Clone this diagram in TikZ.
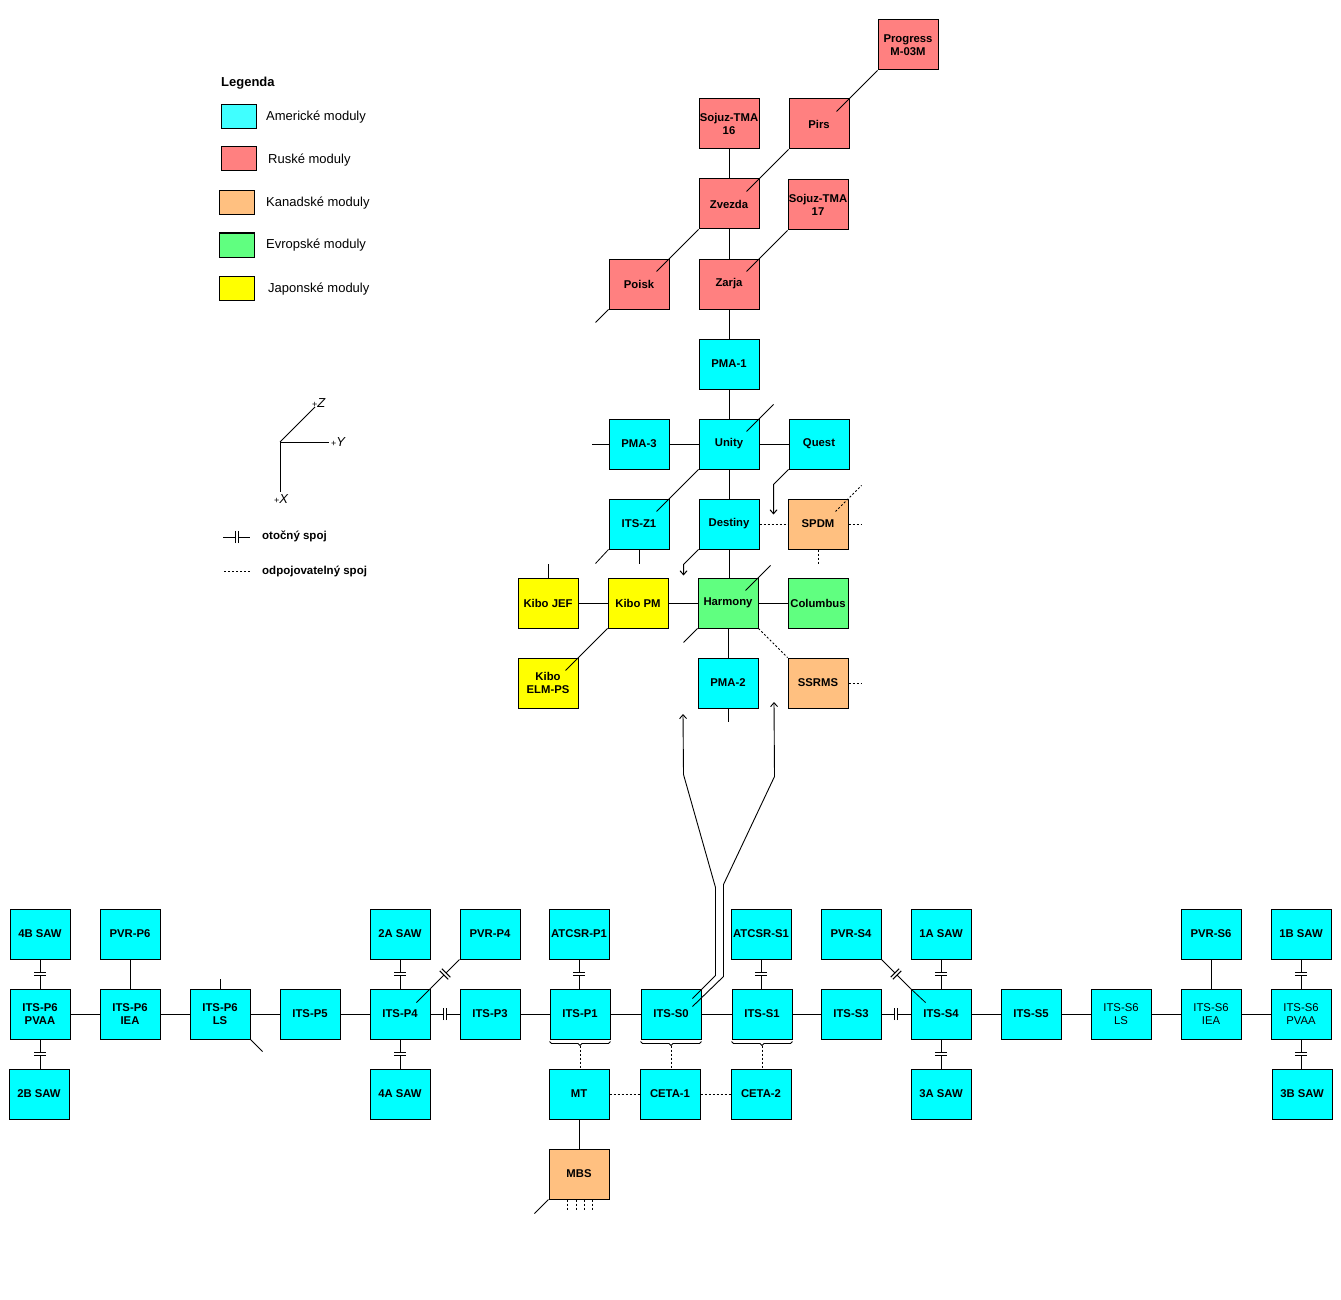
\documentclass[tikz,border=0pt]{standalone}
\usepackage{fontspec}
\setmainfont{Liberation Sans}
\usetikzlibrary{calc,decorations.markings,arrows.meta}

\definecolor{usc}{RGB}{0,255,255}
\definecolor{usl}{RGB}{64,255,255}
\definecolor{ruc}{RGB}{255,128,128}
\definecolor{cac}{RGB}{255,192,128}
\definecolor{euc}{RGB}{96,255,128}
\definecolor{jpc}{RGB}{255,255,0}

\tikzset{
  mod/.style={draw=black, line width=1pt, minimum width=60pt, minimum height=50pt,
    inner sep=0pt, align=center, font=\fontsize{11.3}{12.5}\selectfont\bfseries},
  us/.style={mod, fill=usc},
  ru/.style={mod, fill=ruc},
  ca/.style={mod, fill=cac},
  eu/.style={mod, fill=euc},
  jp/.style={mod, fill=jpc},
  usr/.style={us, font=\fontsize{11.3}{13.5}\selectfont},
  usb/.style={us, font=\fontsize{11.3}{13.5}\selectfont\bfseries},
  conn/.style={line width=1pt},
  diag/.style={line width=0.8pt},
  dots/.style={line width=1pt, dash pattern=on 2pt off 2pt},
  rot/.style={line width=1pt,
    decoration={markings, mark=at position 0.5 with {
      \fill[white] (-1.5pt,-1pt) rectangle (1.5pt,1pt);
      \draw[line width=1pt, solid] (-1.5pt,-6pt) -- (-1.5pt,6pt) (1.5pt,-6pt) -- (1.5pt,6pt);}},
    postaction={decorate}},
  arr/.style={line width=1pt, -{Straight Barb[length=4pt,width=7pt]}},
  swatch/.style={draw, line width=1pt, minimum width=35pt, minimum height=24pt, inner sep=0pt},
  legtext/.style={anchor=west, inner sep=0pt, font=\fontsize{13}{15}\selectfont},
  legbold/.style={anchor=west, inner sep=0pt, font=\fontsize{11.5}{13}\selectfont\bfseries},
  axl/.style={inner sep=0pt, font=\fontsize{13}{15}\selectfont\itshape},
}
\newcommand{\pl}{{\upshape\fontsize{9}{9}\selectfont +}}

\begin{document}
\begin{tikzpicture}[x=1pt,y=-1pt]
\fill[white] (0,0) rectangle (1341,1300);
\useasboundingbox (0,0) rectangle (1341,1300);

% ---------------- legend ----------------
\node[anchor=west, inner sep=0pt, font=\fontsize{13}{15}\selectfont\bfseries] (legtitle) at (221,83) {Legenda};
\node[swatch, fill=usl] (lus) at (238.5,117) {};
\node[swatch, fill=ruc] (lru) at (238.5,159) {};
\node[swatch, fill=cac] (lca) at (236.5,202.5) {};
\node[swatch, fill=euc] (leu) at (236.5,245) {};
\node[swatch, fill=jpc] (ljp) at (236.5,288.5) {};
\node[legtext] (tus) at (266,117) {Americké moduly};
\node[legtext] (tru) at (268,160) {Ruské moduly};
\node[legtext] (tca) at (266,203) {Kanadské moduly};
\node[legtext] (teu) at (266,245) {Evropské moduly};
\node[legtext] (tjp) at (268,289) {Japonské moduly};

% axes
\coordinate (ax) at (280,442);
\coordinate (axz) at (315,407);
\coordinate (axy) at (329,442);
\coordinate (axx) at (280,492);
\draw[line width=0.9pt] (ax) -- (axz);
\draw[conn] (ax) -- (axy);
\draw[conn] (ax) -- (axx);
\node[axl, anchor=west] (lz) at (312,403) {\pl Z};
\node[axl, anchor=west] (ly) at (331,442) {\pl Y};
\node[axl] (lx) at (281,499) {\pl X};

% connector legend
\coordinate (r1) at (223,537);
\coordinate (r2) at (250,537);
\draw[rot] (r1) -- (r2);
\node[legbold] (trot) at (262,536) {otočný spoj};
\coordinate (d1) at (224,571);
\coordinate (d2) at (250,571);
\draw[dots] (d1) -- (d2);
\node[legbold] (tdot) at (262,571) {odpojovatelný spoj};

% ---------------- upper modules ----------------
\node[ru] (progress) at (908,45) {Progress\\M-03M};
\node[ru] (soj16) at (729,124) {Sojuz-TMA\\16};
\node[ru] (pirs) at (819,124) {Pirs};
\node[ru] (zvezda) at (729,204) {Zvezda};
\node[ru] (soj17) at (818,205) {Sojuz-TMA\\17};
\node[ru] (poisk) at (639,284) {Poisk};
\node[ru] (zarja) at (729,284) {Zarja};
\node[us] (pma1) at (729,364) {PMA-1};
\node[us] (pma3) at (639,444) {PMA-3};
\node[us] (unity) at (729,444) {Unity};
\node[us] (quest) at (819,444) {Quest};
\node[us] (z1) at (639,524) {ITS-Z1};
\node[us] (destiny) at (729,524) {Destiny};
\node[ca] (spdm) at (818,524) {SPDM};
\node[jp] (jef) at (548,603) {Kibo JEF};
\node[jp] (pm) at (638,603) {Kibo PM};
\node[eu] (harmony) at (728,603) {Harmony};
\node[eu] (columbus) at (818,603) {Columbus};
\node[jp] (elm) at (548,683) {Kibo\\ELM-PS};
\node[us] (pma2) at (728,683) {PMA-2};
\node[ca] (ssrms) at (818,683) {SSRMS};

% ---------------- truss ----------------
\node[us] (b4) at (40,934) {4B SAW};
\node[us] (pvrp6) at (130,934) {PVR-P6};
\node[us] (a2) at (400,934) {2A SAW};
\node[us] (pvrp4) at (490,934) {PVR-P4};
\node[us] (atp1) at (579,934) {ATCSR-P1};
\node[us] (ats1) at (761,934) {ATCSR-S1};
\node[us] (pvrs4) at (851,934) {PVR-S4};
\node[us] (a1) at (941,934) {1A SAW};
\node[us] (pvrs6) at (1211,934) {PVR-S6};
\node[us] (b1) at (1301,934) {1B SAW};

\node[usb] (pvaap) at (40,1014) {ITS-P6\\PVAA};
\node[usb] (ieap) at (130,1014) {ITS-P6\\IEA};
\node[usb] (lsp) at (220,1014) {ITS-P6\\LS};
\node[us] (p5) at (310,1014) {ITS-P5};
\node[us] (p4) at (400,1014) {ITS-P4};
\node[us] (p3) at (490,1014) {ITS-P3};
\node[us] (p1) at (580,1014) {ITS-P1};
\node[us] (s0) at (671,1014) {ITS-S0};
\node[us] (s1) at (762,1014) {ITS-S1};
\node[us] (s3) at (851,1014) {ITS-S3};
\node[us] (s4) at (941,1014) {ITS-S4};
\node[us] (s5) at (1031,1014) {ITS-S5};
\node[usr] (lss) at (1121,1014) {ITS-S6\\LS};
\node[usr] (ieas) at (1211,1014) {ITS-S6\\IEA};
\node[usr] (pvaas) at (1301,1014) {ITS-S6\\PVAA};

\node[us] (b2) at (39,1094) {2B SAW};
\node[us] (a4) at (400,1094) {4A SAW};
\node[us] (mt) at (579,1094) {MT};
\node[us] (ceta1) at (670,1094) {CETA-1};
\node[us] (ceta2) at (761,1094) {CETA-2};
\node[us] (a3) at (941,1094) {3A SAW};
\node[us] (b3) at (1302,1094) {3B SAW};
\node[ca] (mbs) at (579,1174) {MBS};

% ---------------- upper connectors ----------------
\draw[conn] (soj16.south) -- (zvezda.north);
\draw[conn] (zvezda.south) -- (zarja.north);
\draw[conn] (zarja.south) -- (pma1.north);
\draw[conn] (pma1.south) -- (unity.north);
\draw[conn] (unity.south) -- (destiny.north);
\draw[conn] (destiny.south) -- (harmony.north -| destiny.south);
\draw[conn] (harmony.south) -- (pma2.north);
\draw[conn] (pma3.east) -- (unity.west);
\draw[conn] (unity.east) -- (quest.west);
\draw[conn] (jef.east) -- (pm.west);
\draw[conn] (pm.east) -- (harmony.west);
\draw[conn] (harmony.east) -- (columbus.west);
\draw[dots] (destiny.east) -- (spdm.west);
\draw[dots, line width=0.8pt] (harmony.south east) -- (ssrms.north west);

\draw[diag] (progress.south west) -- ($(pirs.north east)+(-13,13)$);
\draw[diag] (pirs.south west) -- ($(zvezda.north east)+(-13,13)$);
\draw[diag] (zvezda.south west) -- ($(poisk.north east)+(-13,13)$);
\draw[diag] (soj17.south west) -- ($(zarja.north east)+(-13,13)$);
\draw[diag] (unity.south west) -- ($(z1.north east)+(-13,13)$);
\draw[diag] (pm.south west) -- ($(elm.north east)+(-13,13)$);

\draw[diag] (poisk.south west) -- ++(-13,13);
\draw[conn] (pma3.west) -- ++(-17,0);
\draw[diag] ($(unity.north east)+(-13,13)$) -- ++(27,-27);
\draw[diag] ($(harmony.north east)+(-13,13)$) -- ++(25,-25);
\draw[dots, line width=0.8pt] ($(spdm.north east)+(-13,13)$) -- ++(26,-26);
\draw[dots] (spdm.east) -- ++(13,0);
\draw[dots] (spdm.south) -- ++(0,14);
\draw[dots] (ssrms.east) -- ++(13,0);
\draw[conn] (z1.south) -- ++(0,14);
\draw[diag] (z1.south west) -- ++(-13,14);
\draw[conn] (jef.north) -- ++(0,-14);
\draw[diag] (harmony.south west) -- ++(-14,14);
\draw[conn] (pma2.south) -- ++(0,13);
\draw[arr] (quest.south west) -- ++(-15,15) -- ++(0,30);
\draw[arr] (destiny.south west) -- ++(-15,15) -- ++(0,11);

% lines from ITS-S0 up to the station
\coordinate (tipL) at (683,714);
\coordinate (tipR) at (774,702);
\draw[arr, line width=0.9pt] ($(s0.north east)+(-9,10)$) -- ++(23,-23) -- ++(0,-88) -- ++(-32,-113) -- (tipL);
\draw[arr, line width=0.9pt] ($(s0.north east)+(-9,18)$) -- ++(31,-30) -- ++(0,-92) -- ++(51,-108) -- (tipR);

% ---------------- truss connectors ----------------
\draw[rot] (b4.south) -- (pvaap.north);
\draw[rot] (pvaap.south) -- (b2.north -| pvaap.south);
\draw[conn] (pvrp6.south) -- (ieap.north);
\draw[conn] (pvaap.east) -- (ieap.west);
\draw[conn] (ieap.east) -- (lsp.west);
\draw[conn] (lsp.east) -- (p5.west);
\draw[conn] (p5.east) -- (p4.west);
\draw[conn] (lsp.north) -- ++(0,-10);
\draw[diag] (lsp.south east) -- ++(12,12);
\draw[rot] (a2.south) -- (p4.north);
\draw[rot] (p4.south) -- (a4.north);
\draw[rot] (p4.east) -- (p3.west);
\draw[rot, line width=0.8pt] (p4.north east) -- (pvrp4.south west);
\draw[diag] (p4.north east) -- ++(-14,14);
\draw[conn] (p3.east) -- (p1.west);
\draw[conn] (p1.east) -- (s0.west);
\draw[conn] (s0.east) -- (s1.west);
\draw[conn] (s1.east) -- (s3.west);
\draw[rot] (atp1.south) -- (p1.north -| atp1.south);
\draw[rot] (ats1.south) -- (s1.north -| ats1.south);
\draw[rot] (s3.east) -- (s4.west);
\draw[rot, line width=0.8pt] (pvrs4.south east) -- (s4.north west);
\draw[diag] (s4.north west) -- ++(15,14);
\draw[rot] (a1.south) -- (s4.north);
\draw[rot] (s4.south) -- (a3.north);
\draw[conn] (s4.east) -- (s5.west);
\draw[conn] (s5.east) -- (lss.west);
\draw[conn] (lss.east) -- (ieas.west);
\draw[conn] (ieas.east) -- (pvaas.west);
\draw[conn] (pvrs6.south) -- (ieas.north);
\draw[rot] (b1.south) -- (pvaas.north);
\draw[rot] (pvaas.south) -- (pvaas.south |- b3.north);

% braces below ITS-P1, ITS-S0, ITS-S1 and detachable links
\foreach \m in {p1,s0,s1}{
  \draw[line width=0.9pt] ($(\m.south west)+(0,2)$) -- ++(2,2) -- ($(\m.south)+(-2,4)$) -- ++(2,2) -- ++(2,-2) -- ($(\m.south east)+(-2,4)$) -- ++(2,-2);
}
\draw[dots] ($(p1.south)+(0,6)$) -- (mt.north -| p1.south);
\draw[dots] ($(s0.south)+(0,6)$) -- (ceta1.north -| s0.south);
\draw[dots] ($(s1.south)+(0,6)$) -- (ceta2.north -| s1.south);
\draw[dots] (mt.east) -- (ceta1.west);
\draw[dots] (ceta1.east) -- (ceta2.west);
\draw[conn] (mt.south) -- (mbs.north);
\draw[diag] (mbs.south west) -- ++(-14,14);
\foreach \dx in {-12,-3,5,13}{
  \draw[dots] ($(mbs.south)+(\dx,0)$) -- ++(0,10);
}
\end{tikzpicture}
\end{document}
